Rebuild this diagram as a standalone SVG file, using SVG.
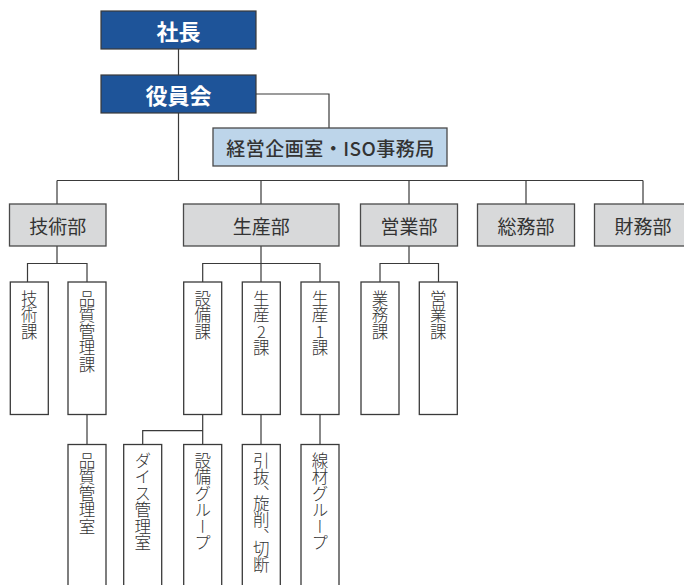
<svg xmlns="http://www.w3.org/2000/svg" width="684" height="585" viewBox="0 0 684 585">
<style>
.navy{fill:#1e5499;stroke:#3a3a3a;stroke-width:1.2}
.lb{fill:#bdd5ea;stroke:#4a4a4a;stroke-width:1.3}
.dept{fill:#d8d9da;stroke:#4a4a4a;stroke-width:1.3}
.sub{fill:#ffffff;stroke:#3a3a3a;stroke-width:1.3}
.ln{fill:none;stroke:#3a3a3a;stroke-width:1.2}
text{font-family:"Noto Sans CJK JP","Noto Sans",sans-serif;fill:#333333}
.wt{fill:#ffffff;font-weight:700;font-size:22px;text-anchor:middle;dominant-baseline:central}
.ht{font-size:19px;font-weight:500;letter-spacing:0.5px;text-anchor:middle;dominant-baseline:central}
.dt{font-size:19px;text-anchor:middle;dominant-baseline:central}
.vt{font-size:16.5px;font-weight:300;writing-mode:vertical-rl;text-orientation:upright}
</style>
<g id="connectors">
<path class="ln" d="M178.5 49V75M178.5 113V180.5M256 94H329V128"/>
<path class="ln" d="M57 180.5H643M57 180.5V204M261 180.5V204M409 180.5V204M526 180.5V204M643 180.5V204"/>
<path class="ln" d="M57 246V263.5M27.5 282V263.5H87V282"/>
<path class="ln" d="M261 246V282M202.7 282V263.5H320V282"/>
<path class="ln" d="M409 246V263.5M380 282V263.5H438.5V282"/>
<path class="ln" d="M87 414.5V444.5M202.7 414.5V444.5M142.7 444.5V430.7H202.7M261 414.5V444.5M320 414.5V444.5"/>
</g>
<g id="shacho"><rect class="navy" x="101" y="11" width="155" height="38"/><text class="wt" x="178.5" y="30">社長</text></g>
<g id="yakuinkai"><rect class="navy" x="101" y="75" width="155" height="38"/><text class="wt" x="178.5" y="94">役員会</text></g>
<g id="keiei"><rect class="lb" x="213" y="128" width="234" height="38"/><text class="ht" x="330.5" y="147">経営企画室・ISO事務局</text></g>
<g id="gijutsubu"><rect class="dept" x="9.5" y="204" width="96.5" height="42"/><text class="dt" x="57.7" y="225">技術部</text></g>
<g id="seisanbu"><rect class="dept" x="183.5" y="204" width="155.5" height="42"/><text class="dt" x="261.2" y="225">生産部</text></g>
<g id="eigyobu"><rect class="dept" x="360.5" y="204" width="97" height="42"/><text class="dt" x="409" y="225">営業部</text></g>
<g id="somubu"><rect class="dept" x="477.5" y="204" width="97" height="42"/><text class="dt" x="526" y="225">総務部</text></g>
<g id="zaimubu"><rect class="dept" x="594.5" y="204" width="97" height="42"/><text class="dt" x="643" y="225">財務部</text></g>
<g id="gijutsuka"><rect class="sub" x="10.3" y="282" width="38" height="132.5"/><text class="vt" x="29.3" y="290">技術課</text></g>
<g id="hinshitsuka"><rect class="sub" x="68" y="282" width="38" height="132.5"/><text class="vt" x="87" y="290">品質管理課</text></g>
<g id="setsubika"><rect class="sub" x="183.7" y="282" width="38" height="132.5"/><text class="vt" x="202.7" y="290">設備課</text></g>
<g id="seisan2ka"><rect class="sub" x="242.3" y="282" width="38" height="132.5"/><text class="vt" x="261.3" y="290">生産2課</text></g>
<g id="seisan1ka"><rect class="sub" x="301" y="282" width="38" height="132.5"/><text class="vt" x="320" y="290">生産1課</text></g>
<g id="gyomuka"><rect class="sub" x="361" y="282" width="38" height="132.5"/><text class="vt" x="380" y="290">業務課</text></g>
<g id="eigyoka"><rect class="sub" x="419.3" y="282" width="38" height="132.5"/><text class="vt" x="438.3" y="290">営業課</text></g>
<g id="hinshitsushitsu"><rect class="sub" x="68" y="444.5" width="38" height="150"/><text class="vt" x="87" y="452">品質管理室</text></g>
<g id="daisu"><rect class="sub" x="123.7" y="444.5" width="38" height="150"/><text class="vt" x="142.7" y="452">ダイス管理室</text></g>
<g id="setsubig"><rect class="sub" x="183.7" y="444.5" width="38" height="150"/><text class="vt" x="202.7" y="452">設備グループ</text></g>
<g id="hikinuki"><rect class="sub" x="242.3" y="444.5" width="38" height="150"/><text class="vt" x="261.3" y="452">引抜、</text><text class="vt" x="261.3" y="495">旋削、</text><text class="vt" x="261.3" y="540">切断</text></g>
<g id="senzai"><rect class="sub" x="301" y="444.5" width="38" height="150"/><text class="vt" x="320" y="452">線材グループ</text></g>
</svg>
